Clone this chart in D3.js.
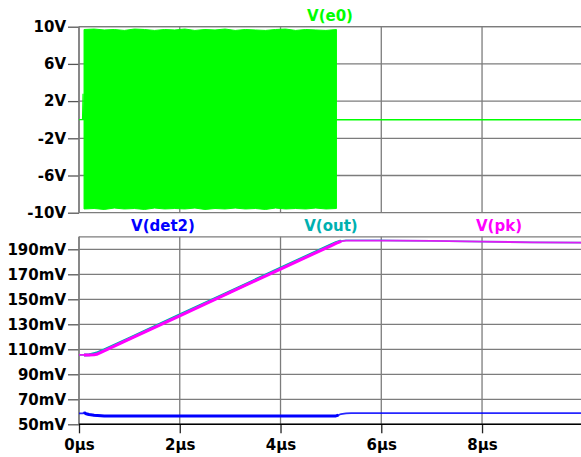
<!DOCTYPE html>
<html>
<head>
<meta charset="utf-8">
<script src="https://cdn.jsdelivr.net/npm/d3@7/dist/d3.min.js"></script>
<style>
  html, body { margin: 0; padding: 0; background: #fff; }
  svg { display: block; }
  text { font-family: "DejaVu Sans", Verdana, sans-serif; font-weight: bold; font-size: 15px; }
</style>
</head>
<body>
<svg id="chart" width="581" height="457"></svg>
<script>
// ---------- data ----------
const xTicks = [0, 2, 4, 6, 8];
const xTickLabels = ["0µs", "2µs", "4µs", "6µs", "8µs"];

const topTicks = [10, 6, 2, -2, -6, -10];
const topTickLabels = ["10V", "6V", "2V", "-2V", "-6V", "-10V"];

const botTicks = [190, 170, 150, 130, 110, 90, 70, 50];
const botTickLabels = ["190mV", "170mV", "150mV", "130mV", "110mV", "90mV", "70mV", "50mV"];

// V(e0): envelope of the fast oscillation (µs, V)
const e0EnvTime = [0.10, 0.30, 0.50, 0.70, 0.90, 1.10, 1.30, 1.50, 1.70, 1.90, 2.10, 2.30, 2.50, 2.70, 2.90, 3.10, 3.30, 3.50, 3.70, 3.90, 4.10, 4.30, 4.50, 4.70, 4.90, 5.11];
const e0EnvMax  = [9.7, 9.75, 9.65, 9.7, 9.6, 9.75, 9.7, 9.6, 9.7, 9.65, 9.75, 9.6, 9.7, 9.65, 9.75, 9.6, 9.7, 9.65, 9.6, 9.7, 9.75, 9.6, 9.7, 9.65, 9.6, 9.7];
const e0EnvMin  = [-9.6, -9.55, -9.65, -9.5, -9.6, -9.55, -9.65, -9.5, -9.6, -9.55, -9.6, -9.5, -9.65, -9.55, -9.6, -9.5, -9.6, -9.55, -9.65, -9.5, -9.6, -9.55, -9.6, -9.5, -9.6, -9.55];
// V(e0) quiet portions
const e0QuietTime1 = [0, 0.07, 0.08, 0.09, 0.10];
const e0QuietVal1  = [0, 0, 2.8, 0, 0];
const e0QuietTime2 = [5.11, 10];
const e0QuietVal2  = [0, 0];

// bottom pane (µs, mV)
const outTime = [0, 0.1, 0.2, 0.25, 0.3, 0.35, 0.5, 1, 2, 3, 4, 5, 5.1, 5.2, 5.3, 5.4, 6, 6.3, 7, 8, 9, 10];
const outVal  = [105.5, 105.5, 105.6, 106.0, 106.5, 107.0, 109.6, 118.8, 137.5, 156.2, 174.9, 193.5, 195.3, 196.6, 197.1, 197.2, 197.1, 196.9, 196.7, 196.1, 195.6, 195.3];
const pkTime  = [0, 0.1, 0.2, 0.3, 0.35, 0.5, 1, 2, 3, 4, 5, 5.1, 5.2, 5.3, 5.4, 6, 6.3, 7, 8, 9, 10];
const pkVal   = [105.5, 105.5, 105.5, 105.6, 106, 108.8, 118.1, 136.8, 155.5, 174.2, 192.8, 194.8, 196.4, 196.9, 197, 197, 196.9, 196.7, 196.1, 195.6, 195.3];
const det2Time = [0, 0.08, 0.1, 0.14, 0.2, 0.3, 0.5, 1, 3, 5, 5.1, 5.15, 5.2, 5.3, 5.4, 7, 10];
const det2Val  = [58.8, 58.8, 59.4, 58.4, 57.8, 57.2, 56.7, 56.6, 56.6, 56.6, 56.7, 57.3, 58.2, 58.8, 58.9, 58.9, 58.9];

const seriesNames = ["V(det2)", "V(out)", "V(pk)"];

// ---------- layout ----------
const svg = d3.select("#chart");
svg.append("rect").attr("width", 581).attr("height", 457).attr("fill", "#fff");

const x = d3.scaleLinear().domain([0, 10]).range([79, 582.8]);
const yTop = d3.scaleLinear().domain([-10, 10]).range([212.7, 26.7]);
const yBot = d3.scaleLinear().domain([50, 200]).range([424.3, 236.8]);

const gridCol = "#7c7c7c";

function pane(y, ticks, labels, domain) {
  const g = svg.append("g");
  ticks.forEach(t => {
    g.append("line").attr("x1", x(0)).attr("x2", 581)
      .attr("y1", y(t)).attr("y2", y(t))
      .attr("stroke", gridCol).attr("stroke-width", 1.3);
  });
  g.append("line").attr("x1", x(0)).attr("x2", 581)
    .attr("y1", y(domain[1])).attr("y2", y(domain[1]))
    .attr("stroke", gridCol).attr("stroke-width", 1.3);
  xTicks.forEach(t => {
    g.append("line").attr("x1", x(t)).attr("x2", x(t))
      .attr("y1", y(domain[1])).attr("y2", y(domain[0]))
      .attr("stroke", gridCol).attr("stroke-width", 1.3);
  });
  const ax = d3.axisLeft(y).tickValues(ticks)
    .tickFormat((d, i) => labels[i]).tickSize(11).tickPadding(2);
  const ag = g.append("g").attr("transform", `translate(${x(0)},0)`).call(ax);
  ag.select(".domain").remove();
  ag.selectAll(".tick line").attr("stroke", "#555").attr("stroke-width", 1.3);
  ag.selectAll(".tick text").attr("fill", "#000")
    .style("font-family", '"DejaVu Sans", Verdana, sans-serif')
    .style("font-weight", "bold").style("font-size", "15px");
  return g;
}

pane(yTop, topTicks, topTickLabels, [-10, 10]);
pane(yBot, botTicks, botTickLabels, [50, 200]);

svg.append("line").attr("x1", x(0)).attr("x2", x(0)).attr("y1", yTop(10)).attr("y2", yTop(-10))
  .attr("stroke", gridCol).attr("stroke-width", 1.5);
svg.append("line").attr("x1", x(0)).attr("x2", x(0)).attr("y1", yBot(200)).attr("y2", yBot(50))
  .attr("stroke", gridCol).attr("stroke-width", 1.5);

const xAx = d3.axisBottom(x).tickValues(xTicks).tickFormat((d, i) => xTickLabels[i])
  .tickSize(9).tickPadding(6);
const xg = svg.append("g").attr("transform", `translate(0,${yBot(50)})`).call(xAx);
xg.select(".domain").remove();
xg.selectAll(".tick line").attr("stroke", "#222").attr("stroke-width", 1.3);
xg.selectAll(".tick text").attr("fill", "#000")
  .style("font-family", '"DejaVu Sans", Verdana, sans-serif')
  .style("font-weight", "bold").style("font-size", "15px");
svg.append("line").attr("x1", x(0)).attr("x2", 581).attr("y1", yBot(50)).attr("y2", yBot(50))
  .attr("stroke", "#000").attr("stroke-width", 1.4);

// ---------- top pane traces ----------
const green = "#00ff00";
const env = e0EnvTime.map((t, i) => ({ t, hi: e0EnvMax[i], lo: e0EnvMin[i] }));
const area = d3.area().x(d => x(d.t)).y0(d => yTop(d.lo)).y1(d => yTop(d.hi));
svg.append("path").datum(env).attr("d", area).attr("fill", green).attr("stroke", green).attr("stroke-width", 1);

const lineTop = d3.line().x(d => x(d[0])).y(d => yTop(d[1]));
svg.append("path").datum(e0QuietTime1.map((t, i) => [t, e0QuietVal1[i]]))
  .attr("d", lineTop).attr("fill", "none").attr("stroke", green).attr("stroke-width", 1.2);
svg.append("path").datum(e0QuietTime2.map((t, i) => [t, e0QuietVal2[i]]))
  .attr("d", lineTop).attr("fill", "none").attr("stroke", green).attr("stroke-width", 1.4);

// ---------- bottom pane traces ----------
const lineBot = d3.line().x(d => x(d[0])).y(d => yBot(d[1]));
function drawTrace(times, vals, color, thickUntil) {
  const pts = times.map((t, i) => [t, vals[i]]);
  svg.append("path").datum(pts).attr("d", lineBot).attr("fill", "none")
    .attr("stroke", color).attr("stroke-width", 1.8).attr("stroke-opacity", 0.85);
  const thick = pts.filter(p => p[0] >= 0.1 && p[0] <= thickUntil);
  svg.append("path").datum(thick).attr("d", lineBot).attr("fill", "none")
    .attr("stroke", color).attr("stroke-width", 3).attr("stroke-linejoin", "round");
}
const teal = "#00b0b0", magenta = "#ff00ff", blue = "#0000ff";
drawTrace(det2Time, det2Val, blue, 5.15);
drawTrace(outTime, outVal, teal, 5.2);
drawTrace(pkTime, pkVal, magenta, 5.2);

// ---------- trace names ----------
svg.append("text").attr("x", 330).attr("y", 20.5).attr("text-anchor", "middle")
  .attr("fill", green).text("V(e0)");
const nameCols = [blue, teal, magenta];
const nameX = [163, 331, 499];
seriesNames.forEach((n, i) => {
  svg.append("text").attr("x", nameX[i]).attr("y", 230.5).attr("text-anchor", "middle")
    .attr("fill", nameCols[i]).text(n);
});
</script>
</body>
</html>
